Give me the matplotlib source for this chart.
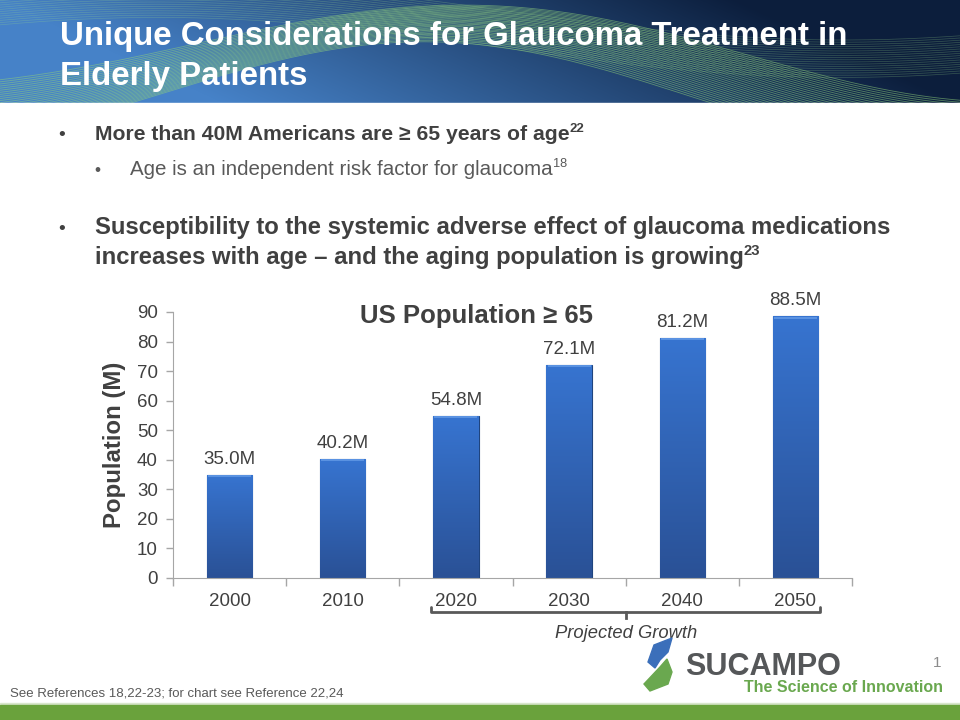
import numpy as np
import matplotlib
matplotlib.use("Agg")
import matplotlib.pyplot as plt
from matplotlib.patches import Rectangle, Polygon

plt.rcParams['font.family'] = ['Liberation Sans', 'DejaVu Sans']

# data
years = ['2000', '2010', '2020', '2030', '2040', '2050']
population = [35.0, 40.2, 54.8, 72.1, 81.2, 88.5]
labels = ['35.0M', '40.2M', '54.8M', '72.1M', '81.2M', '88.5M']
y_ticks = [0, 10, 20, 30, 40, 50, 60, 70, 80, 90]

title_lines = ['Unique Considerations for Glaucoma Treatment in', 'Elderly Patients']
bullet1 = 'More than 40M Americans are \u2265 65 years of age'
sub1 = 'Age is an independent risk factor for glaucoma'
bullet2 = ['Susceptibility to the systemic adverse effect of glaucoma medications',
           'increases with age \u2013 and the aging population is growing']
footer = 'See References 18,22-23; for chart see Reference 22,24'

dark = '#404040'
gray = '#595959'

fig = plt.figure(figsize=(9.6, 7.2), dpi=100)
bg = fig.add_axes([0, 0, 1, 1])
bg.set_xlim(0, 960)
bg.set_ylim(720, 0)
bg.axis('off')

# header banner
H, W = 103, 960
xx, yy = np.meshgrid(np.linspace(0, 1, W), np.linspace(0, 1, H))
left = np.array([70, 130, 200]) / 255
right = np.array([12, 30, 60]) / 255
t = np.clip(xx * 1.3 - yy * 0.3, 0, 1)[..., None]
img = np.clip(left * (1 - t) + right * t, 0, 1)
bg.imshow(img, extent=[0, 960, 103, 0], aspect='auto', zorder=0)
xs = np.linspace(0, 960, 400)
for k in range(30):
    yc = 70 - 45 * np.sin((xs - 130) / 960 * 2 * np.pi * 0.85) + k * 1.6 - 20 + 10 * np.sin(xs / 140 + k * 0.05)
    bg.plot(xs, yc, color='#8fd07a', lw=0.6, alpha=0.55, zorder=1)
for k in range(18):
    yc = 10 + 30 * np.sin((xs - 500) / 960 * 2 * np.pi * 0.7) + k * 2.2
    bg.plot(xs, yc, color='#9bd88a', lw=0.5, alpha=0.3, zorder=1)
bg.add_patch(Rectangle((0, 103), 960, 617, color='white', zorder=2))

for i, line in enumerate(title_lines):
    bg.text(60, 45 + i * 40, line, color='white', fontsize=23.8, fontweight='bold',
            va='baseline', ha='left', zorder=3)

fig.canvas.draw()
rend = fig.canvas.get_renderer()


def with_sup(x, y, s, sup, **kw):
    t = bg.text(x, y, s, va='baseline', ha='left', zorder=3, **kw)
    bb = t.get_window_extent(renderer=rend)
    x_end = bb.x1 * 960 / fig.bbox.width
    fs = kw.get('fontsize', 12)
    kw2 = dict(kw)
    kw2['fontsize'] = fs * 0.62
    bg.text(x_end, y - fs * 0.55, sup, va='baseline', ha='left', zorder=3, **kw2)


bg.text(58, 140, '\u2022', color=dark, fontsize=14, va='baseline', zorder=3)
with_sup(95, 140, bullet1, '22', color=dark, fontsize=15.2, fontweight='bold')
bg.text(94, 175, '\u2022', color=gray, fontsize=12.5, va='baseline', zorder=3)
with_sup(130, 175, sub1, '18', color=gray, fontsize=14.8)
bg.text(58, 234, '\u2022', color=dark, fontsize=14, va='baseline', zorder=3)
bg.text(95, 234, bullet2[0], color=dark, fontsize=17.2, fontweight='bold', va='baseline', zorder=3)
with_sup(95, 264, bullet2[1], '23', color=dark, fontsize=17.2, fontweight='bold')

# bracket for projected growth
bx0, bx1, by = 431, 820, 612
bg.plot([bx0, bx0, bx1, bx1], [by - 5, by, by, by - 5], color=gray, lw=2, zorder=3, solid_capstyle='round')
bg.plot([626, 626], [by, by + 6], color=gray, lw=2, zorder=3)
bg.text(626, 638, 'Projected Growth', color=dark, fontsize=13.2, style='italic', ha='center', va='baseline', zorder=3)

# logo
bg.add_patch(Polygon([[654, 645], [672, 638], [668, 652], [660, 660], [655, 668], [648, 662]],
                     closed=True, color='#3b6fba', zorder=3))
bg.add_patch(Polygon([[660, 667], [667, 659], [672, 672], [668, 684], [650, 691], [644, 684]],
                     closed=True, color='#6aa84f', zorder=3))
bg.text(685, 675, 'SUCAMPO', color='#555759', fontsize=22, fontweight='bold', va='baseline', zorder=3)
bg.text(943, 692, 'The Science of Innovation', color='#6aa84f', fontsize=11.5, fontweight='bold',
        ha='right', va='baseline', zorder=3)
bg.text(937, 667, '1', color='#8c8c8c', fontsize=11, ha='center', va='baseline', zorder=3)

bg.text(10, 697, footer, color=gray, fontsize=9.5, va='baseline', zorder=3)
bg.add_patch(Rectangle((0, 703), 960, 1.5, color='#d8e6cc', zorder=3))
bg.add_patch(Rectangle((0, 704.5), 960, 16, color='#6aa23c', zorder=3))

# chart
ax = fig.add_axes([173 / 960, 1 - 578 / 720, (852 - 173) / 960, (578 - 312) / 720])
ax.patch.set_alpha(0)
pos = np.arange(len(years))
bars = ax.bar(pos, population, width=0.4, color='#2f62b5', edgecolor='#1f447e', linewidth=0.8, zorder=2)
grad = np.linspace(0, 1, 100)[:, None]
cmap = matplotlib.colors.LinearSegmentedColormap.from_list('b', ['#2a5196', '#3774d0'])
for b, v in zip(bars, population):
    im = ax.imshow(grad, extent=[b.get_x(), b.get_x() + b.get_width(), 0, v], origin='lower',
                   cmap=cmap, aspect='auto', zorder=2.5)
    im.set_clip_path(b)
    ax.add_patch(Rectangle((b.get_x() + 0.01, v - 0.7), b.get_width() - 0.02, 0.6,
                           color='#6aa0ea', alpha=0.7, lw=0, zorder=3))
for p, v, l in zip(pos, population, labels):
    ax.annotate(l, (p, v), xytext=(0, 5), textcoords='offset points', ha='center', va='bottom',
                fontsize=13.5, color=dark)

ax.set_xlim(-0.5, 5.5)
ax.set_ylim(0, 90)
ax.set_yticks(y_ticks)
ax.tick_params(axis='y', labelsize=13.5, colors=dark, length=5, width=1, color='#a6a6a6', pad=6)
ax.set_xticks(np.arange(-0.5, 6.0, 1.0))
ax.set_xticklabels([])
ax.tick_params(axis='x', which='major', length=6, width=1, color='#a6a6a6', direction='out')
ax.set_xticks(pos, minor=True)
ax.set_xticklabels(years, minor=True)
ax.tick_params(axis='x', which='minor', length=0, labelsize=13.5, labelcolor=dark, pad=11)
for s in ['top', 'right']:
    ax.spines[s].set_visible(False)
for s in ['left', 'bottom']:
    ax.spines[s].set_color('#a6a6a6')
ax.set_ylabel('Population (M)', fontsize=17.3, fontweight='bold', color=dark, labelpad=8)
ax.text(0.447, 0.985, 'US Population \u2265 65', transform=ax.transAxes, ha='center', va='center',
        fontsize=18.5, fontweight='bold', color=dark)

fig.savefig('out.png', dpi=100)
